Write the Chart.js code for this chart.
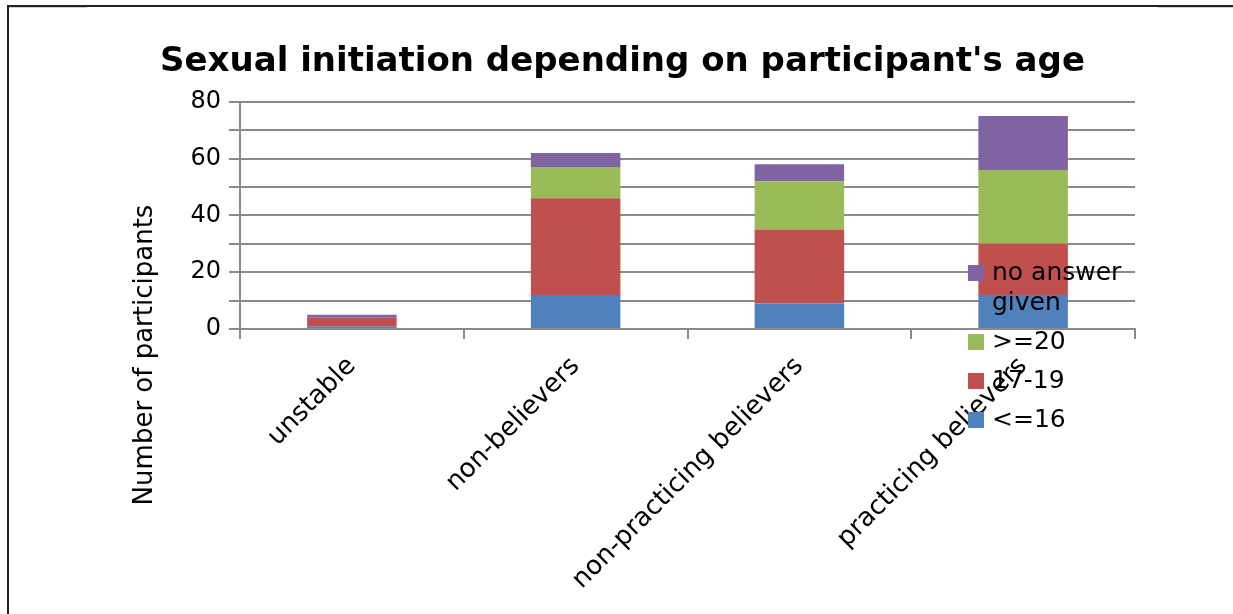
<!DOCTYPE html>
<html>
<head>
<meta charset="utf-8">
<script src="https://cdn.jsdelivr.net/npm/chart.js@4/dist/chart.umd.min.js"></script>
<style>
  html, body { margin: 0; padding: 0; background: #fff; overflow: hidden; }
  #frame { position: absolute; left: 7px; top: 5px; width: 1240px; height: 620px;
           border-left: 2px solid #222; border-top: 2px solid #222; }
  .rule { position: absolute; top: 7px; height: 1px; background: #cfcfcf; }
  #wrap { position: absolute; left: 0; top: 0; width: 1233px; height: 614px; }
</style>
</head>
<body>
<div id="frame"></div>
<div class="rule" style="left:9px;width:78px"></div>
<div class="rule" style="left:1158px;width:75px"></div>
<div id="wrap"><canvas id="age-chart"></canvas></div>
<script>
const groups = ["unstable", "non-believers", "non-practicing believers", "practicing believers"];
const under16 = [1, 12, 9, 12];
const age17to19 = [3, 34, 26, 18];
const over20 = [0, 11, 17, 26];
const noAnswer = [1, 5, 6, 19];
const yTicks = [0, 20, 40, 60, 80];

const FONT = "DejaVu Sans";

// legend drawn by hand so the long label can wrap and sit over the plot
const sideLegend = {
  id: "sideLegend",
  afterDraw(chart) {
    const ctx = chart.ctx;
    const sets = chart.data.datasets.slice().reverse();
    ctx.save();
    ctx.font = "25px '" + FONT + "'";
    ctx.textBaseline = "middle";
    ctx.textAlign = "left";
    let y = 273;
    sets.forEach(ds => {
      const words = ds.label.split(" ");
      const lines = [];
      let cur = "";
      words.forEach(w => {
        const t = cur ? cur + " " + w : w;
        if (ctx.measureText(t).width > 140 && cur) { lines.push(cur); cur = w; }
        else cur = t;
      });
      lines.push(cur);
      ctx.fillStyle = ds.backgroundColor;
      ctx.fillRect(968, y - 8, 16, 16);
      ctx.fillStyle = "#000";
      lines.forEach((l, i) => ctx.fillText(l, 992, y + i * 30));
      y += (lines.length - 1) * 30 + 39;
    });
    ctx.restore();
  }
};

// y axis title, centred lower than the plot as in the office chart
const yTitle = {
  id: "yTitle",
  afterDraw(chart) {
    const ctx = chart.ctx;
    ctx.save();
    ctx.translate(145, 355);
    ctx.rotate(-Math.PI / 2);
    ctx.font = "26px '" + FONT + "'";
    ctx.fillStyle = "#000";
    ctx.textAlign = "center";
    ctx.textBaseline = "middle";
    ctx.fillText("Number of participants", 0, 0);
    ctx.restore();
  }
};

new Chart(document.getElementById("age-chart"), {
  type: "bar",
  data: {
    labels: groups,
    datasets: [
      { label: "<=16", data: under16, backgroundColor: "#4F81BD" },
      { label: "17-19", data: age17to19, backgroundColor: "#C0504D" },
      { label: ">=20", data: over20, backgroundColor: "#9BBB59" },
      { label: "no answer given", data: noAnswer, backgroundColor: "#8064A2" },
    ],
  },
  options: {
    responsive: true,
    maintainAspectRatio: false,
    animation: false,
    layout: { autoPadding: false, padding: { left: 110, right: 98, top: 0, bottom: 0 } },
    datasets: { bar: { categoryPercentage: 1, barPercentage: 0.4 } },
    plugins: {
      legend: { display: false },
      tooltip: { enabled: false },
      title: {
        display: true,
        text: "Sexual initiation depending on participant's age",
        color: "#000",
        font: { family: FONT, size: 34, weight: "bold" },
        padding: { top: 42, bottom: 19 },
      },
    },
    scales: {
      x: {
        stacked: true,
        afterFit: s => { s.height = 285; },
        grid: { offset: true, drawOnChartArea: false, drawTicks: true, tickLength: 10, color: "#8a8a8a", lineWidth: 2 },
        border: { color: "#8a8a8a", width: 2 },
        ticks: {
          color: "#000",
          minRotation: 45,
          maxRotation: 45,
          autoSkip: false,
          padding: 12,
          font: { family: FONT, size: 26 },
        },
      },
      y: {
        stacked: true,
        min: 0,
        max: 80,
        afterFit: s => { s.width = 130; },
        grid: { color: "#8a8a8a", lineWidth: 2, tickLength: 11 },
        border: { color: "#8a8a8a", width: 2 },
        ticks: {
          stepSize: 10,
          autoSkip: false,
          color: "#000",
          padding: 8,
          font: { family: FONT, size: 24 },
          callback: v => (yTicks.includes(v) ? v : ""),
        },
      },
    },
  },
  plugins: [sideLegend, yTitle],
});
</script>
</body>
</html>
